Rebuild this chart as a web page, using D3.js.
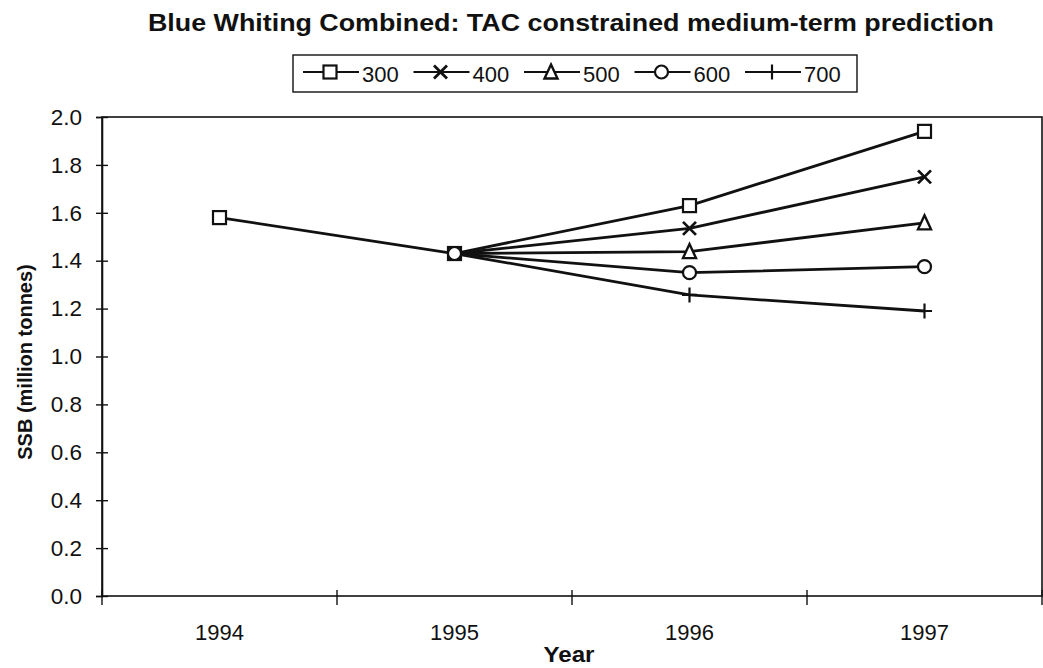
<!DOCTYPE html>
<html>
<head>
<meta charset="utf-8">
<script src="https://cdn.jsdelivr.net/npm/d3@7/dist/d3.min.js"></script>
<style>
  html, body { margin: 0; padding: 0; background: #fff; }
  svg { display: block; font-family: "Liberation Sans", Arial, sans-serif; }
</style>
</head>
<body>
<svg id="chart" width="1043" height="668"></svg>
<script>
// Blue whiting SSB projections under different TAC levels (thousand tonnes)
const years = ["1994", "1995", "1996", "1997"];
const tacLabels = ["300", "400", "500", "600", "700"];
const ssb300 = [1.58, 1.43, 1.63, 1.94];
const ssb400 = [null, 1.43, 1.535, 1.75];
const ssb500 = [null, 1.43, 1.438, 1.558];
const ssb600 = [null, 1.43, 1.35, 1.375];
const ssb700 = [null, 1.43, 1.257, 1.19];
const yTicks = [0, 0.2, 0.4, 0.6, 0.8, 1.0, 1.2, 1.4, 1.6, 1.8, 2.0];
// series whose marker is drawn at the common 1995 starting point
const startMarkers = ["300", "600"];

const seriesValues = [ssb300, ssb400, ssb500, ssb600, ssb700];
const markerKinds = ["square", "cross", "triangle", "circle", "plus"];
const series = tacLabels.map((name, i) => ({
  name,
  kind: markerKinds[i],
  points: years.map((yr, j) => ({ year: yr, value: seriesValues[i][j] }))
                .filter(p => p.value !== null)
}));

const svg = d3.select("#chart");
const plotLeft = 102, plotRight = 1042, plotTop = 117, plotBottom = 596;

const x = d3.scaleBand().domain(years).range([plotLeft, plotRight]).padding(0);
const y = d3.scaleLinear().domain([0, 2]).range([plotBottom, plotTop]);

// plot frame
svg.append("rect")
  .attr("x", plotLeft).attr("y", plotTop)
  .attr("width", plotRight - plotLeft).attr("height", plotBottom - plotTop)
  .attr("fill", "none").attr("stroke", "#111").attr("stroke-width", 1.6);

// y axis with ticks crossing the axis line
const yAxis = svg.append("g")
  .attr("transform", `translate(${plotLeft},0)`)
  .call(d3.axisLeft(y).tickValues(yTicks).tickFormat(d3.format(".1f"))
        .tickSize(6).tickPadding(14));
yAxis.select(".domain").attr("stroke", "#111").attr("stroke-width", 1.6);
yAxis.selectAll(".tick line").attr("x1", 6).attr("x2", -6)
  .attr("stroke", "#111").attr("stroke-width", 1.4);
yAxis.selectAll(".tick text")
  .attr("font-size", 22.5).attr("fill", "#111")
  .attr("font-family", "'Liberation Sans', Arial, sans-serif");

// x axis: tick marks on category boundaries, labels at category centres
const xAxis = svg.append("g").attr("transform", `translate(0,${plotBottom})`);
const boundaries = years.map(yr => x(yr)).concat([x(years[years.length - 1]) + x.bandwidth()]);
xAxis.selectAll("line.tick")
  .data(boundaries)
  .join("line")
  .attr("class", "tick")
  .attr("x1", d => d).attr("x2", d => d)
  .attr("y1", -6).attr("y2", 9)
  .attr("stroke", "#111").attr("stroke-width", 1.4);
xAxis.selectAll("text.lbl")
  .data(years)
  .join("text")
  .attr("class", "lbl")
  .attr("x", d => x(d) + x.bandwidth() / 2)
  .attr("y", 44)
  .attr("text-anchor", "middle")
  .attr("font-size", 22)
  .attr("fill", "#111")
  .text(d => d);

// titles
svg.append("text")
  .attr("x", 571).attr("y", 31)
  .attr("text-anchor", "middle")
  .attr("font-size", 24).attr("font-weight", "bold").attr("fill", "#111")
  .attr("textLength", 846).attr("lengthAdjust", "spacingAndGlyphs")
  .text("Blue Whiting Combined: TAC constrained medium-term prediction");

svg.append("text")
  .attr("x", 569).attr("y", 662)
  .attr("text-anchor", "middle")
  .attr("font-size", 22).attr("font-weight", "bold").attr("fill", "#111")
  .attr("textLength", 51).attr("lengthAdjust", "spacingAndGlyphs")
  .text("Year");

svg.append("text")
  .attr("transform", "translate(32,362) rotate(-90)")
  .attr("text-anchor", "middle")
  .attr("font-size", 20).attr("font-weight", "bold").attr("fill", "#111")
  .text("SSB (million tonnes)");

// marker drawing
function drawMarker(g, kind) {
  const s = 6.5;
  if (kind === "square") {
    g.append("rect").attr("x", -s).attr("y", -s).attr("width", 2 * s).attr("height", 2 * s)
      .attr("fill", "#fff").attr("stroke", "#111").attr("stroke-width", 2.2);
  } else if (kind === "cross") {
    g.append("path").attr("d", `M${-s},${-s}L${s},${s}M${-s},${s}L${s},${-s}`)
      .attr("stroke", "#111").attr("stroke-width", 2.8).attr("fill", "none");
  } else if (kind === "triangle") {
    g.append("path").attr("d", `M0,${-s - 1}L${s},${s}L${-s},${s}Z`)
      .attr("fill", "#fff").attr("stroke", "#111").attr("stroke-width", 2.4);
  } else if (kind === "circle") {
    g.append("circle").attr("r", s)
      .attr("fill", "#fff").attr("stroke", "#111").attr("stroke-width", 2.2);
  } else if (kind === "plus") {
    g.append("path").attr("d", `M${-s - 1},0L${s + 1},0M0,${-s - 1}L0,${s + 1}`)
      .attr("stroke", "#111").attr("stroke-width", 2.2).attr("fill", "none");
  }
}

// series lines
const line = d3.line()
  .x(d => x(d.year) + x.bandwidth() / 2)
  .y(d => y(d.value));

const plot = svg.append("g");
plot.selectAll("path.series")
  .data(series)
  .join("path")
  .attr("class", "series")
  .attr("d", d => line(d.points))
  .attr("fill", "none")
  .attr("stroke", "#111")
  .attr("stroke-width", 2.8)
  .attr("stroke-linejoin", "round");

// series markers
series.forEach(s => {
  s.points.forEach(p => {
    if (p.year === "1995" && !startMarkers.includes(s.name)) return;
    const g = plot.append("g")
      .attr("transform", `translate(${x(p.year) + x.bandwidth() / 2},${y(p.value)})`);
    drawMarker(g, s.kind);
  });
});

// legend
const legend = svg.append("g");
legend.append("rect")
  .attr("x", 293).attr("y", 55).attr("width", 564).attr("height", 37)
  .attr("fill", "#fff").attr("stroke", "#111").attr("stroke-width", 1.4);
series.forEach((s, i) => {
  const x0 = 303 + i * 110.5;
  const g = legend.append("g").attr("transform", `translate(${x0},72)`);
  g.append("line").attr("x1", 0).attr("x2", 56).attr("y1", 0).attr("y2", 0)
    .attr("stroke", "#111").attr("stroke-width", 2.2);
  drawMarker(g.append("g").attr("transform", "translate(27,0)"), s.kind);
  g.append("text").attr("x", 59).attr("y", 10)
    .attr("font-size", 22).attr("fill", "#111").text(s.name);
});
</script>
</body>
</html>
